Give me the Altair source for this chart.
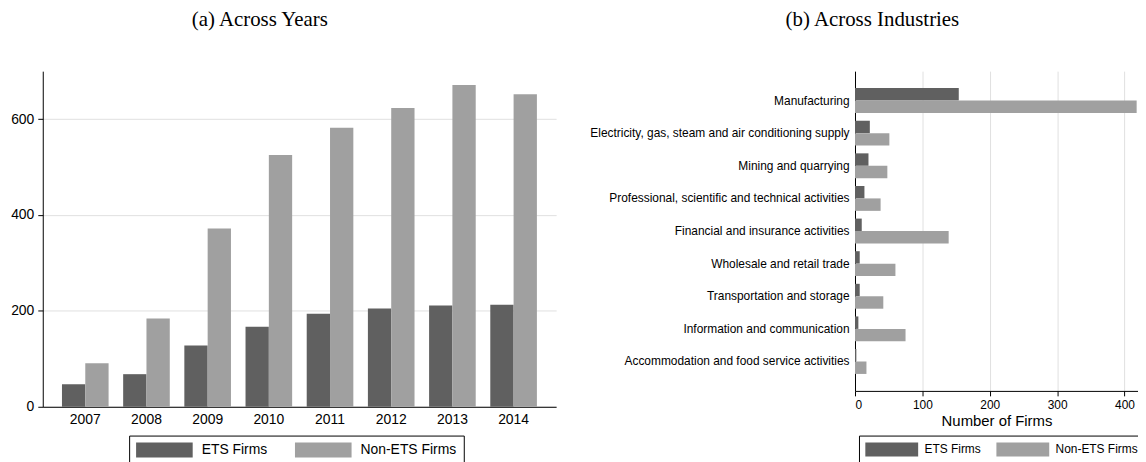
import altair as alt
import pandas as pd

# ---- data ----
years = ["2007", "2008", "2009", "2010", "2011", "2012", "2013", "2014"]
ets_years = [47, 68, 128, 167, 194, 205, 211, 213]
non_ets_years = [91, 184, 372, 525, 582, 623, 671, 652]

industries = [
    "Manufacturing",
    "Electricity, gas, steam and air conditioning supply",
    "Mining and quarrying",
    "Professional, scientific and technical activities",
    "Financial and insurance activities",
    "Wholesale and retail trade",
    "Transportation and storage",
    "Information and communication",
    "Accommodation and food service activities",
]
ets_ind = [154, 22, 20, 14, 10, 7, 7, 5, 2]
non_ets_ind = [418, 51, 48, 38, 139, 60, 42, 75, 17]

series = ["ETS Firms", "Non-ETS Firms"]
colors = ["#606060", "#a0a0a0"]

df_years = pd.DataFrame({
    "Year": years * 2,
    "Group": [series[0]] * len(years) + [series[1]] * len(years),
    "Firms": ets_years + non_ets_years,
})
df_ind = pd.DataFrame({
    "Industry": industries * 2,
    "Group": [series[0]] * len(industries) + [series[1]] * len(industries),
    "Firms": ets_ind + non_ets_ind,
})

SANS = "Liberation Sans"
SERIF = "Liberation Serif"
label_expr = ("datum.label == 'Non-ETS Firms' ? "
              "datum.label + '\u00a0\u00a0\u00a0\u00a0\u00a0\u00a0' : datum.label")

left = alt.Chart(
    df_years,
    title=alt.Title("(a) Across Years", font=SERIF, fontSize=21, fontWeight="normal",
                    color="black", anchor="middle", frame="group", dx=-40, offset=41),
).mark_bar().encode(
    x=alt.X("Year:N", sort=years,
            scale=alt.Scale(paddingInner=0.238, paddingOuter=0.314),
            axis=alt.Axis(title=None, labelAngle=0, ticks=False, labelFontSize=14,
                          labelPadding=6, domainColor="black", labelColor="black")),
    xOffset=alt.XOffset("Group:N", sort=series),
    y=alt.Y("Firms:Q", scale=alt.Scale(domain=[0, 700], nice=False),
            axis=alt.Axis(title=None, values=[0, 200, 400, 600], tickSize=5,
                          tickColor="black", domainColor="black", labelFontSize=14,
                          labelPadding=4, labelColor="black", gridColor="#e0e0e0",
                          minExtent=30, maxExtent=30)),
    color=alt.Color("Group:N", sort=series,
                    scale=alt.Scale(domain=series, range=colors),
                    legend=alt.Legend(title=None, orient="none", legendX=87, legendY=367,
                                      direction="horizontal",
                                      symbolType="M-3.8,-1H3.8V1H-3.8Z", symbolSize=225,
                                      symbolOffset=21, symbolStrokeWidth=0, symbolOpacity=1,
                                      labelOffset=30, labelFontSize=14, labelFont=SANS,
                                      labelColor="black", strokeColor="black", padding=7,
                                      columnPadding=27, fillColor="white",
                                      labelExpr=label_expr)),
).properties(width=517, height=338)

right = alt.Chart(
    df_ind,
    title=alt.Title("(b) Across Industries", font=SERIF, fontSize=21, fontWeight="normal",
                    color="black", anchor="middle", frame="group", dx=-125, offset=41),
).mark_bar().encode(
    y=alt.Y("Industry:N", sort=industries,
            scale=alt.Scale(paddingInner=0.237, paddingOuter=0.52),
            axis=alt.Axis(title=None, ticks=False, labelFontSize=12, labelPadding=6,
                          domainColor="black", labelColor="black", labelLimit=400,
                          minExtent=267, maxExtent=267)),
    yOffset=alt.YOffset("Group:N", sort=series),
    x=alt.X("Firms:Q", scale=alt.Scale(domain=[0, 420], nice=False),
            axis=alt.Axis(title="Number of Firms", values=[0, 100, 200, 300, 400],
                          tickSize=5, tickColor="black", domainColor="black",
                          labelFontSize=12, labelPadding=4, labelColor="black",
                          titleFontSize=15, titleFontWeight="normal", titlePadding=3,
                          titleColor="black", gridColor="#e0e0e0")),
    color=alt.Color("Group:N", sort=series,
                    scale=alt.Scale(domain=series, range=colors),
                    legend=alt.Legend(title=None, orient="none", legendX=4, legendY=367,
                                      direction="horizontal",
                                      symbolType="M-3.8,-1H3.8V1H-3.8Z", symbolSize=196,
                                      symbolOffset=19, symbolStrokeWidth=0, symbolOpacity=1,
                                      labelOffset=26, labelFontSize=12, labelFont=SANS,
                                      labelColor="black", strokeColor="black", padding=7,
                                      columnPadding=15, fillColor="white")),
).properties(width=285, height=322)

chart = alt.hconcat(left, right, spacing=33).resolve_scale(
    color="independent"
).resolve_legend(color="independent").properties(
    autosize=alt.AutoSizeParams(type="none"),
    padding={"left": 35, "top": 62, "right": 1103, "bottom": 392},
).configure_view(stroke=None).configure_axis(
    labelFont=SANS, titleFont=SANS
)

chart.save("out.html", embed_options={"renderer": "svg", "actions": False})
